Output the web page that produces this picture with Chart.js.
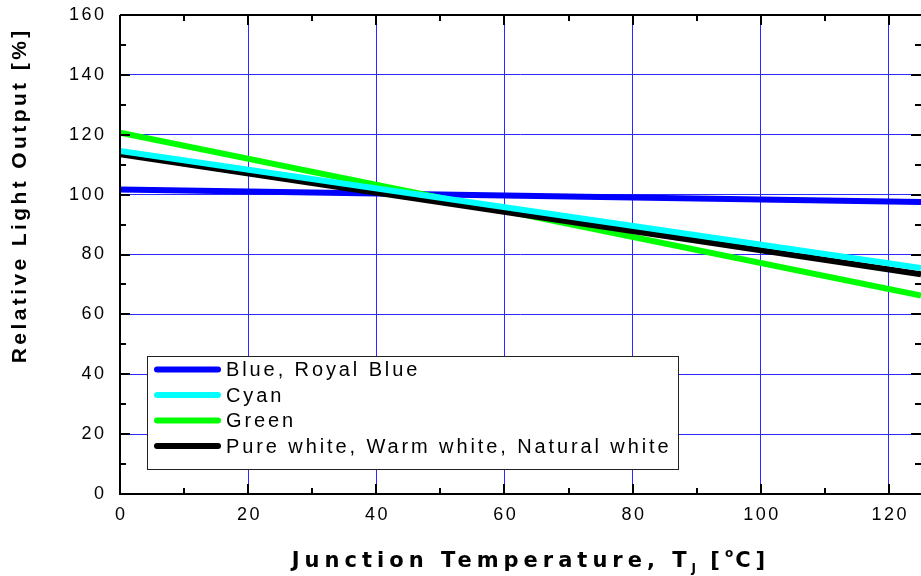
<!DOCTYPE html>
<html>
<head>
<meta charset="utf-8">
<script src="https://cdn.jsdelivr.net/npm/chart.js@4.4.1/dist/chart.umd.min.js"></script>
<style>
  html, body { margin: 0; padding: 0; background: #fff; }
  #wrap { width: 921px; height: 576px; }
</style>
</head>
<body>
<div id="wrap"><canvas id="chart" width="921" height="576"></canvas></div>
<script>
// Data
const temperatures = [0, 125];
const blueValues = [101.7, 97.5];
const cyanValues = [114.6, 75.5];
const greenValues = [120.7, 66.3];
const whiteValues = [113.5, 73.4];

const seriesLabels = ['Blue, Royal Blue', 'Cyan', 'Green', 'Pure white, Warm white, Natural white'];
const seriesColors = ['#0000ff', '#00ffff', '#00ff00', '#000000'];

const xTickValues = [0, 20, 40, 60, 80, 100, 120];
const yTickValues = [0, 20, 40, 60, 80, 100, 120, 140, 160];

const X_MAX = 125;
const Y_MAX = 160;

function toPoints(values) {
    return temperatures.map((t, i) => ({ x: t, y: values[i] }));
}

// Draws text with letter spacing; align is handled by measuring
function spacedText(ctx, text, x, y, align, spacing) {
    ctx.letterSpacing = spacing + 'px';
    const w = ctx.measureText(text).width - spacing;
    let sx = x;
    if (align === 'center') sx = x - w / 2;
    if (align === 'right') sx = x - w;
    ctx.textAlign = 'left';
    ctx.fillText(text, sx, y);
    ctx.letterSpacing = '0px';
    return w;
}

// Frame, inward ticks, labels, legend and axis titles
const framePlugin = {
    id: 'frame',
    afterDraw(chart) {
        const ctx = chart.ctx;
        const area = chart.chartArea;
        const xs = chart.scales.x;
        const ys = chart.scales.y;
        ctx.save();

        // axis lines
        ctx.strokeStyle = '#000';
        ctx.lineWidth = 2;
        ctx.beginPath();
        ctx.moveTo(area.left, area.top);
        ctx.lineTo(area.left, area.bottom);
        ctx.lineTo(area.right, area.bottom);
        ctx.moveTo(area.left, area.top);
        ctx.lineTo(area.right, area.top);
        ctx.stroke();

        // ticks: major every 20, minor every 10
        ctx.lineWidth = 2;
        ctx.beginPath();
        for (let v = 0; v <= X_MAX; v += 10) {
            const px = Math.round(xs.getPixelForValue(v));
            const len = v % 20 === 0 ? 10 : 6;
            ctx.moveTo(px, area.bottom);
            ctx.lineTo(px, area.bottom - len);
            ctx.moveTo(px, area.top);
            ctx.lineTo(px, area.top + len);
        }
        for (let v = 0; v <= Y_MAX; v += 10) {
            const py = Math.round(ys.getPixelForValue(v));
            const len = v % 20 === 0 ? 10 : 6;
            ctx.moveTo(area.left, py);
            ctx.lineTo(area.left + len, py);
            ctx.moveTo(area.right, py);
            ctx.lineTo(area.right - len, py);
        }
        ctx.stroke();

        // tick labels
        ctx.fillStyle = '#000';
        ctx.font = '18px "Liberation Sans", Arial, sans-serif';
        ctx.textBaseline = 'middle';
        yTickValues.forEach(v => {
            spacedText(ctx, String(v), 104, ys.getPixelForValue(v), 'right', 2.5);
        });
        xTickValues.forEach(v => {
            spacedText(ctx, String(v), xs.getPixelForValue(v), 515, 'center', 2.5);
        });

        // legend box
        const box = { left: 147, top: 356, right: 678, bottom: 469 };
        ctx.fillStyle = '#fff';
        ctx.fillRect(box.left, box.top, box.right - box.left, box.bottom - box.top);
        ctx.strokeStyle = '#222';
        ctx.lineWidth = 1;
        ctx.strokeRect(box.left + 0.5, box.top + 0.5, box.right - box.left, box.bottom - box.top);
        const rowY = [369.5, 395, 420.5, 446];
        seriesLabels.forEach((label, i) => {
            ctx.strokeStyle = seriesColors[i];
            ctx.lineWidth = 6;
            ctx.lineCap = 'round';
            ctx.beginPath();
            ctx.moveTo(157, rowY[i]);
            ctx.lineTo(218, rowY[i]);
            ctx.stroke();
            ctx.fillStyle = '#000';
            ctx.font = '20px "Liberation Sans", Arial, sans-serif';
            ctx.textBaseline = 'middle';
            spacedText(ctx, label, 226, rowY[i] + 1, 'left', 2.9);
        });

        // x axis title with subscript and degree sign
        ctx.fillStyle = '#000';
        ctx.textBaseline = 'alphabetic';
        const big = 'bold 21px "DejaVu Sans", Verdana, sans-serif';
        const small = 'bold 12px "DejaVu Sans", Verdana, sans-serif';
        const sp = 5;
        const parts = [
            { t: 'Junction Temperature, T', f: big, dy: 0 },
            { t: 'J', f: small, dy: 5 },
            { t: ' [', f: big, dy: 0 },
            { t: 'o', f: small, dy: -10 },
            { t: 'C]', f: big, dy: 0 }
        ];
        let total = 0;
        parts.forEach(p => {
            ctx.font = p.f;
            ctx.letterSpacing = (p.f === small ? 2 : sp) + 'px';
            p.w = ctx.measureText(p.t).width;
            total += p.w;
        });
        let cx = 531 - total / 2;
        parts.forEach(p => {
            ctx.font = p.f;
            ctx.letterSpacing = (p.f === small ? 2 : sp) + 'px';
            ctx.fillText(p.t, cx, 567 + p.dy);
            cx += p.w;
        });
        ctx.letterSpacing = '0px';

        // y axis title
        ctx.save();
        ctx.translate(20, 197);
        ctx.rotate(-Math.PI / 2);
        ctx.font = 'bold 21px "Liberation Sans", Arial, sans-serif';
        ctx.textBaseline = 'middle';
        spacedText(ctx, 'Relative Light Output [%]', 0, 0, 'center', 3.4);
        ctx.restore();

        ctx.restore();
    }
};

const datasets = [blueValues, cyanValues, greenValues, whiteValues].map((vals, i) => ({
    label: seriesLabels[i],
    data: toPoints(vals),
    borderColor: seriesColors[i],
    backgroundColor: seriesColors[i],
    borderWidth: 6,
    pointRadius: 0,
    tension: 0
}));
// drawing order: cyan on top, then black, green, blue underneath
datasets[1].order = 0;
datasets[3].order = 1;
datasets[2].order = 2;
datasets[0].order = 3;

const chart = new Chart(document.getElementById('chart').getContext('2d'), {
    type: 'line',
    data: { datasets },
    options: {
        responsive: false,
        animation: false,
        layout: { padding: { top: 15, left: 0, right: 0, bottom: 0 } },
        plugins: {
            legend: { display: false },
            tooltip: { enabled: false }
        },
        scales: {
            x: {
                type: 'linear',
                min: 0,
                max: X_MAX,
                afterBuildTicks: s => { s.ticks = xTickValues.map(v => ({ value: v })); },
                afterFit: s => { s.height = 82; },
                ticks: { display: false },
                border: { display: false },
                grid: { color: '#2a2aff', lineWidth: 1, drawTicks: false }
            },
            y: {
                type: 'linear',
                min: 0,
                max: Y_MAX,
                afterBuildTicks: s => { s.ticks = yTickValues.map(v => ({ value: v })); },
                afterFit: s => { s.width = 120; },
                ticks: { display: false },
                border: { display: false },
                grid: { color: '#2a2aff', lineWidth: 1, drawTicks: false }
            }
        }
    },
    plugins: [framePlugin]
});
</script>
</body>
</html>
